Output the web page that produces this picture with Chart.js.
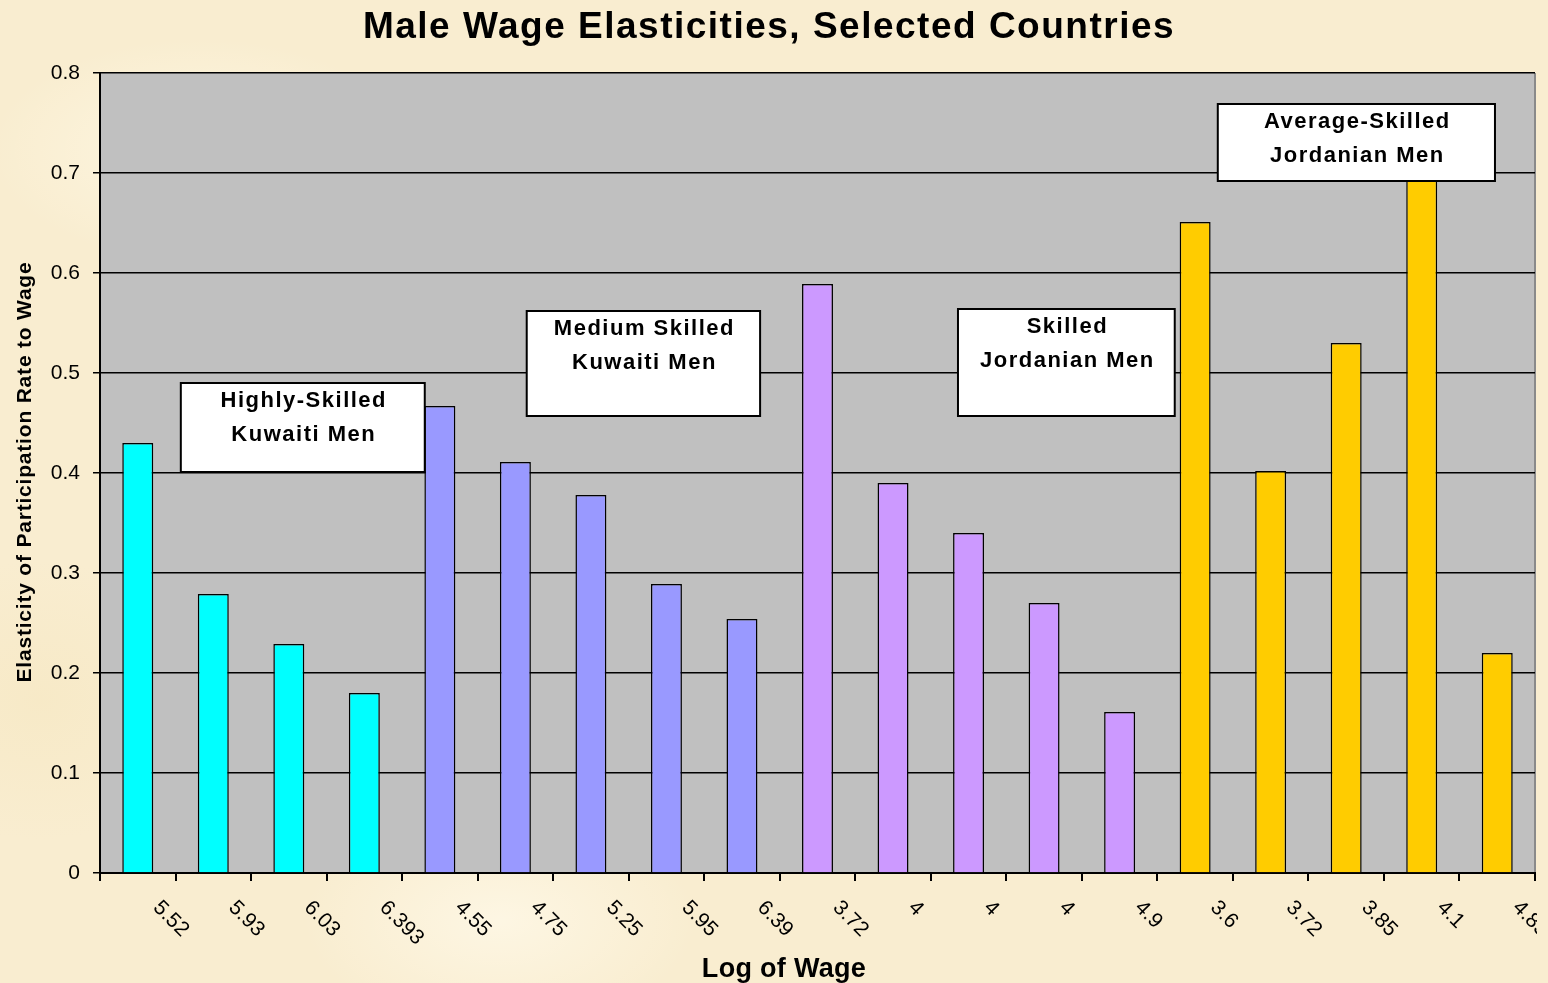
<!DOCTYPE html>
<html>
<head>
<meta charset="utf-8">
<script src="https://cdn.jsdelivr.net/npm/chart.js@4"></script>
<style>
  html, body { margin: 0; padding: 0; }
  #wrap {
    position: relative; width: 1548px; height: 983px;
    background-color: #f9edd0;
    background-image:
      radial-gradient(ellipse 300px 160px at 200px 150px, rgba(255,250,232,0.7), rgba(255,250,232,0) 70%),
      radial-gradient(ellipse 260px 200px at 900px 700px, rgba(244,228,188,0.5), rgba(244,228,188,0) 70%),
      radial-gradient(ellipse 340px 180px at 1300px 400px, rgba(255,248,228,0.6), rgba(255,248,228,0) 70%),
      radial-gradient(ellipse 280px 160px at 500px 920px, rgba(255,250,235,0.7), rgba(255,250,235,0) 70%),
      radial-gradient(ellipse 240px 200px at 40px 700px, rgba(245,230,190,0.5), rgba(245,230,190,0) 70%);
  }
</style>
</head>
<body>
<div id="wrap"><canvas id="myChart"></canvas></div>
<script>
/* chart data */
var wageLabels = ['5.52', '5.93', '6.03', '6.393', '4.55', '4.75', '5.25', '5.95', '6.39', '3.72', '4', '4', '4', '4.9', '3.6', '3.72', '3.85', '4.1', '4.85']
var elasticity = [0.43, 0.279, 0.229, 0.18, 0.467, 0.411, 0.378, 0.289, 0.254, 0.589, 0.39, 0.34, 0.27, 0.161, 0.651, 0.402, 0.53, 0.73, 0.22]
var group = [0, 0, 0, 0, 1, 1, 1, 1, 1, 2, 2, 2, 2, 2, 3, 3, 3, 3, 3]
var groupNames = [['Highly-Skilled', 'Kuwaiti Men'], ['Medium Skilled', 'Kuwaiti Men'], ['Skilled', 'Jordanian Men'], ['Average-Skilled', 'Jordanian Men']]
var yTickLabels = ['0', '0.1', '0.2', '0.3', '0.4', '0.5', '0.6', '0.7', '0.8']

var groupColors = ['#00ffff', '#9999ff', '#cc99ff', '#ffcc00']
// label boxes, in category index / value units
var boxX = [[0.57, 3.80], [5.15, 8.24], [10.86, 13.73], [14.30, 17.97]]
var boxY = [[0.49, 0.401], [0.562, 0.457], [0.564, 0.457], [0.769, 0.692]]

var FONT = '"Liberation Sans", Arial, sans-serif'

/* plot background + texts + boxes */
var decorPlugin = {
  id: 'decor',
  beforeDraw: function (chart) {
    var ctx = chart.ctx, a = chart.chartArea
    ctx.save()
    ctx.fillStyle = '#c0c0c0'
    ctx.fillRect(a.left, a.top, a.right - a.left, a.bottom - a.top)
    ctx.strokeStyle = '#8a8a8a'
    ctx.lineWidth = 2
    ctx.beginPath()
    ctx.moveTo(a.right, a.top)
    ctx.lineTo(a.right, a.bottom)
    ctx.stroke()
    ctx.restore()
  },
  afterDatasetsDraw: function (chart) {
    var ctx = chart.ctx
    var xs = chart.scales.x, ys = chart.scales.y
    ctx.save()
    for (var g = 0; g < groupNames.length; g++) {
      var x1 = xs.getPixelForValue(boxX[g][0]), x2 = xs.getPixelForValue(boxX[g][1])
      var y1 = ys.getPixelForValue(boxY[g][0]), y2 = ys.getPixelForValue(boxY[g][1])
      ctx.fillStyle = '#ffffff'
      ctx.fillRect(x1, y1, x2 - x1, y2 - y1)
      ctx.strokeStyle = '#000000'
      ctx.lineWidth = 2
      ctx.strokeRect(x1, y1, x2 - x1, y2 - y1)
      ctx.fillStyle = '#000000'
      ctx.font = 'bold 22px ' + FONT
      ctx.letterSpacing = '1.5px'
      ctx.textAlign = 'center'
      ctx.textBaseline = 'alphabetic'
      for (var l = 0; l < groupNames[g].length; l++) {
        ctx.fillText(groupNames[g][l], (x1 + x2) / 2 + 1, y1 + 24 + l * 34)
      }
    }
    ctx.restore()
  },
  afterDraw: function (chart) {
    var ctx = chart.ctx, a = chart.chartArea
    var xs = chart.scales.x
    ctx.save()
    ctx.fillStyle = '#000000'
    ctx.textAlign = 'center'
    ctx.textBaseline = 'alphabetic'
    // title
    ctx.font = 'bold 37px ' + FONT
    ctx.letterSpacing = '1.5px'
    ctx.fillText('Male Wage Elasticities, Selected Countries', 769, 38)
    // x axis title
    ctx.font = 'bold 27px ' + FONT
    ctx.letterSpacing = '0.3px'
    ctx.fillText('Log of Wage', 784, 977)
    // y axis title
    ctx.save()
    ctx.translate(31, 472)
    ctx.rotate(-Math.PI / 2)
    ctx.font = 'bold 21px ' + FONT
    ctx.letterSpacing = '0.8px'
    ctx.fillText('Elasticity of Participation Rate to Wage', 0, 0)
    ctx.restore()
    // rotated category labels
    ctx.beginPath()
    ctx.rect(0, a.bottom, a.right + 2, 200)
    ctx.clip()
    ctx.font = '21px ' + FONT
    ctx.letterSpacing = '0px'
    ctx.textAlign = 'left'
    ctx.textBaseline = 'top'
    for (var i = 0; i < wageLabels.length; i++) {
      ctx.save()
      ctx.translate(xs.getPixelForValue(i) + 26, a.bottom + 24)
      ctx.rotate(Math.PI / 4)
      ctx.fillText(wageLabels[i], 0, 0)
      ctx.restore()
    }
    ctx.restore()
  }
}

var data = {
  labels: wageLabels,
  datasets: [{
    label: 'Elasticity',
    data: elasticity,
    backgroundColor: group.map(function (g) { return groupColors[g] }),
    borderColor: '#000000',
    borderWidth: 1.5,
    categoryPercentage: 1,
    barPercentage: 0.41
  }]
}

var config = {
  type: 'bar',
  data: data,
  options: {
    responsive: true,
    maintainAspectRatio: false,
    animation: false,
    layout: { padding: { top: 73, right: 13, left: 0, bottom: 0 } },
    plugins: { legend: { display: false }, tooltip: { enabled: false } },
    scales: {
      x: {
        afterFit: function (s) { s.height = 110 },
        ticks: { display: false },
        grid: { display: true, drawOnChartArea: false, drawTicks: true, tickLength: 8, offset: true, color: '#000000', lineWidth: 2 },
        border: { color: '#000000', width: 2 }
      },
      y: {
        min: 0,
        max: 0.8,
        afterFit: function (s) { s.width = 100 },
        ticks: {
          stepSize: 0.1,
          padding: 13,
          color: '#000000',
          font: { family: FONT, size: 21 },
          callback: function (v, idx) { return yTickLabels[idx] }
        },
        grid: { color: '#000000', lineWidth: 1.5, tickLength: 7 },
        border: { color: '#000000', width: 2 }
      }
    }
  },
  plugins: [decorPlugin]
}

var myChart = new Chart(document.getElementById('myChart'), config)
</script>
</body>
</html>
